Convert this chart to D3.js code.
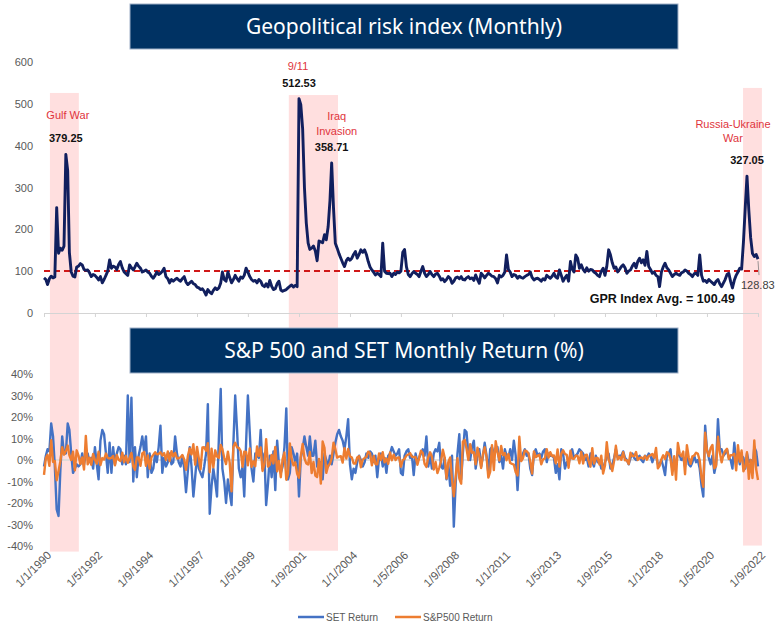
<!DOCTYPE html>
<html>
<head>
<meta charset="utf-8">
<script src="https://cdn.jsdelivr.net/npm/d3@7"></script>
<style>
  body { margin: 0; background: #fff; }
  svg { display: block; }
</style>
</head>
<body>
<div id="chart"></div>
<script>
// monthly values from Jan 1990 to Sep 2022, one row per year
const gprValues = [
  84, 80, 68, 82, 88, 84, 86, 252, 143, 155, 150, 160,
  379.25, 340, 145, 98, 88, 86, 110, 112, 118, 115, 104, 102,
  103, 96, 87, 92, 90, 85, 79, 87, 72, 80, 90, 100,
  127, 107, 112, 110, 104, 116, 123, 108, 98, 94, 90, 115,
  108, 103, 110, 119, 112, 107, 98, 100, 103, 98, 95, 88,
  83, 90, 98, 92, 95, 100, 107, 87, 82, 72, 80, 76,
  80, 83, 79, 76, 82, 87, 74, 68, 72, 76, 70, 68,
  62, 60, 56, 58, 52, 43, 56, 50, 46, 54, 60, 56,
  60, 72, 98, 80, 76, 98, 85, 72, 80, 90, 82, 76,
  86, 83, 90, 107, 98, 87, 80, 76, 78, 72, 80, 76,
  66, 63, 70, 62, 78, 64, 56, 58, 70, 76, 55, 52,
  54, 56, 60, 64, 67, 62, 66, 63, 512.53, 498, 440, 300,
  215, 167, 152, 155, 160, 148, 125, 172, 170, 168, 187, 175,
  206, 270, 358.71, 250, 167, 155, 142, 131, 120, 111, 125, 131,
  126, 131, 140, 147, 131, 140, 151, 145, 151, 140, 123, 110,
  103, 97, 91, 95, 92, 87, 167, 100, 95, 94, 95, 87,
  95, 92, 98, 96, 100, 145, 152, 111, 92, 87, 94, 99,
  95, 92, 87, 100, 111, 95, 87, 92, 99, 92, 87, 93,
  95, 88, 79, 82, 75, 80, 87, 83, 71, 76, 84, 86,
  82, 87, 80, 79, 84, 87, 82, 84, 78, 91, 80, 71,
  95, 90, 84, 90, 95, 92, 88, 87, 82, 72, 90, 86,
  90, 98, 139, 104, 98, 87, 92, 90, 83, 88, 85, 83,
  87, 90, 92, 98, 85, 79, 82, 83, 80, 76, 82, 79,
  90, 86, 83, 88, 95, 86, 83, 103, 90, 76, 84, 90,
  76, 123, 105, 98, 139, 131, 107, 115, 104, 98, 108, 100,
  104, 103, 98, 95, 90, 87, 100, 107, 90, 111, 151, 139,
  120, 107, 110, 98, 104, 111, 115, 108, 95, 100, 103, 112,
  119, 108, 123, 131, 120, 127, 114, 147, 111, 104, 95, 98,
  90, 87, 63, 98, 110, 119, 108, 103, 95, 87, 92, 95,
  92, 90, 96, 98, 103, 100, 95, 92, 87, 94, 95, 90,
  139, 90, 76, 78, 73, 80, 76, 72, 68, 76, 80, 70,
  63, 72, 80, 92, 95, 75, 60, 78, 90, 98, 107, 105,
  170, 255, 327.05, 245, 180, 142, 135, 140, 128.83
];

const setReturn = [
  -3, 2, 5, 4, 17, 11, -3, -23, -26, -5, 11, 3,
  3, 17, 14, 3, -6, -4, -2, -3, -2, 3, -2, 3,
  3, -1, 1, -4, 6, -2, -9, 9, 14, 12, 3, -6,
  8, -6, 6, -2, 3, 6, 5, -2, 2, -2, 30, -1,
  29, -10, 6, -8, 2, 6, 11, 4, 11, -8, 3, -6,
  -4, 3, -1, 6, 16, -6, 1, -3, -1, 3, -2, -1,
  11, 3, -1, -3, 2, -4, -15, -5, 6, -3, -17, -8,
  2, -4, -6, -8, -3, 3, 26, -25, -12, -4, -10, -17,
  10, 33, -4, -10, -20, -9, -15, -21, 8, 30, 14, -4,
  -8, -3, -17, 8, 30, 13, -4, -10, 3, 2, 1, 14,
  -4, 3, -21, -11, 2, -8, 4, -14, 9, -2, -6, -3,
  6, 24, -9, -6, 6, 3, -1, 3, -17, 1, 5, 11,
  6, 2, 11, 2, 2, 9, -3, -4, -1, -9, 3, 0,
  -3, 2, -2, 3, 8, 12, 14, 11, 9, 5, 11, 19,
  -2, -9, -4, -6, -1, 2, 0, -3, -1, 3, 1, 4,
  3, -1, 2, -8, 1, 3, -3, 1, -6, 2, 3, 6,
  4, 2, 3, 5, -6, -7, 2, 4, 5, 1, 2, -7,
  3, -1, 1, 3, 5, 2, 11, -3, 2, -4, 3, 5,
  4, 8, -3, -4, 1, -9, -2, -12, 2, -31, -11, 3,
  12, -9, 3, 14, 13, 3, 0, 6, 9, -4, 2, 5,
  -3, 2, 8, 2, -6, 5, 6, 3, 4, 6, -1, 2,
  -4, 5, 2, 1, 5, 0, 9, 2, -14, 1, 0, 3,
  5, 2, 3, -4, -7, 3, 5, 2, 3, 1, 4, 5,
  -1, 3, 2, 2, 1, -6, -2, -9, 5, 3, -4, -1,
  -2, 3, 5, 1, 2, 3, 5, 4, 3, 0, 1, -3,
  3, -1, -3, 2, -1, 0, -4, -4, -1, 1, 3, -4,
  -2, 1, 5, 1, 2, 2, 4, 1, 0, -2, 1, 3,
  1, 0, 1, 2, 0, -1, 2, 1, 3, 2, -1, 2,
  2, -2, -2, 0, -3, -7, 2, 3, 5, -5, -1, -2,
  4, 2, 0, 1, -3, 4, -2, -3, -1, 2, -1, 0,
  -4, -12, -17, 16, 5, 1, -2, 2, -6, -2, 19, 5,
  5, 2, 3, 5, 1, 0, -4, 8, -1, 3, -2, 2,
  1, -4, 3, -1, 0, -6, 6, 4, -3
];

const spReturn = [
  -6.9, 0.9, 2.4, -2.7, 9.2, -0.9, -0.5, -9.4, -5.1, -0.7, 6.0, 2.5,
  4.2, 6.7, 2.2, 0.0, 3.9, -4.8, 4.5, 2.0, -1.9, 1.2, -4.4, 11.2,
  -2.0, 1.0, -2.2, 2.8, 0.1, -1.7, 3.9, -2.4, 0.9, 0.2, 3.0, 1.0,
  0.7, 1.0, 1.9, -2.5, 2.3, 0.1, -0.5, 3.4, -1.0, 1.9, -1.3, 1.0,
  3.3, -3.0, -4.6, 1.2, 1.2, -2.7, 3.1, 3.8, -2.7, 2.1, -4.0, 1.2,
  2.4, 3.6, 2.7, 2.8, 3.6, 2.1, 3.2, 0.0, 4.0, -0.5, 4.1, 1.7,
  3.3, 0.7, 0.8, 1.3, 2.3, 0.2, -4.6, 1.9, 5.4, 2.6, 7.3, -2.2,
  6.1, 0.6, -4.3, 5.8, 5.9, 4.3, 7.8, -5.7, 5.3, -3.4, 4.5, 1.6,
  1.0, 7.0, 5.0, 0.9, -1.9, 3.9, -1.2, -14.6, 6.2, 8.0, 5.9, 5.6,
  4.1, -3.2, 3.9, 3.8, -2.5, 5.4, -3.2, -0.6, -2.9, 6.3, 1.9, 5.8,
  -5.1, -2.0, 9.7, -3.1, -2.2, 2.4, -1.6, 6.1, -5.3, -0.5, -8.0, 0.4,
  3.5, -9.2, -6.4, 7.7, 0.5, -2.5, -1.1, -6.4, -8.2, 1.8, 7.5, 0.8,
  -1.6, -2.1, 3.7, -6.1, -0.9, -7.2, -7.9, 0.5, -11.0, 8.6, 5.7, -6.0,
  -2.7, -1.7, 0.8, 8.1, 5.1, 1.1, 1.6, 1.8, -1.2, 5.5, 0.7, 5.1,
  1.7, 1.2, -1.6, -1.7, 1.2, 1.8, -3.4, 0.2, 0.9, 1.4, 3.9, 3.2,
  -2.5, 1.9, -1.9, -2.0, 3.0, 0.0, 3.6, -1.1, 0.7, -1.8, 3.5, -0.1,
  2.5, 0.0, 1.1, 1.2, -3.1, 0.0, 0.5, 2.1, 2.5, 3.2, 1.6, 1.3,
  1.4, -2.2, 1.0, 4.3, 3.3, -1.8, -3.2, 1.3, 3.6, 1.5, -4.4, -0.9,
  -6.1, -3.5, -0.6, 4.8, 1.1, -8.6, -1.0, 1.2, -9.1, -16.9, -7.5, 0.8,
  -8.6, -11.0, 8.5, 9.4, 5.3, 0.0, 7.4, 3.4, 3.6, -2.0, 5.7, 1.8,
  -3.7, 2.9, 5.9, 1.5, -8.2, -5.4, 6.9, -4.7, 8.8, 3.7, -0.2, 6.5,
  2.3, 3.2, -0.1, 2.8, -1.4, -1.8, -2.1, -5.7, -7.2, 10.8, -0.5, 0.9,
  4.4, 4.1, 3.1, -0.7, -6.3, 4.0, 1.3, 2.0, 2.4, -2.0, 0.3, 0.7,
  5.0, 1.1, 3.6, 1.8, 2.1, -1.5, 4.9, -3.1, 3.0, 4.5, 2.8, 2.4,
  -3.6, 4.3, 0.7, 0.6, 2.1, 1.9, -1.5, 3.8, -1.6, 2.3, 2.5, -0.4,
  -3.1, 5.5, -1.7, 0.9, 1.0, -2.1, 2.0, -6.3, -2.6, 8.3, 0.1, -1.8,
  -5.1, -0.4, 6.6, 0.3, 1.5, 0.1, 3.6, -0.1, -0.1, -1.9, 3.4, 1.8,
  1.8, 3.7, 0.0, 0.9, 1.2, 0.5, 1.9, 0.1, 1.9, 2.2, 2.8, 1.0,
  5.6, -3.9, -2.7, 0.3, 2.2, 0.5, 3.6, 3.0, 0.4, -6.9, 1.8, -9.2,
  7.9, 3.0, 1.8, 3.9, -6.6, 6.9, 1.3, -1.8, 1.7, 2.0, 3.4, 2.9,
  -0.2, -8.4, -12.5, 12.7, 4.5, 1.8, 5.5, 7.0, -3.9, -2.8, 10.8, 3.7,
  -1.1, 2.6, 4.2, 5.2, 0.5, 2.2, 2.3, 2.9, -4.8, 6.9, -0.8, 4.4,
  -5.3, -3.1, 3.6, -8.8, 0.0, -8.4, 9.1, -4.2, -9.3
];

const xTickLabels = ['1/1/1990', '1/5/1992', '1/9/1994', '1/1/1997', '1/5/1999',
  '1/9/2001', '1/1/2004', '1/5/2006', '1/9/2008', '1/1/2011', '1/5/2013',
  '1/9/2015', '1/1/2018', '1/5/2020', '1/9/2022'];
const gprTicks = [0, 100, 200, 300, 400, 500, 600];
const returnTicks = [-40, -30, -20, -10, 0, 10, 20, 30, 40];
const gprAverage = 100.49;

// shaded event periods: dates, top in index units, bottom in return %
const bandStart = ['1990-04-10', '2001-03-15', '2021-12-25'];
const bandEnd = ['1991-08-06', '2003-06-15', '2022-11-05'];
const bandTop = [526, 521, 538];
const bandBottom = [-42.6, -42.2, -39.8];

const eventNames = [['Gulf War'], ['9/11'], ['Iraq', 'Invasion'], ['Russia-Ukraine', 'War']];
const eventMonths = ['1991-01', '2001-09', '2003-03', '2022-03'];
const eventValues = [379.25, 512.53, 358.71, 327.05];

const titles = ['Geopolitical risk index (Monthly)', 'S&P 500 and SET Monthly Return (%)'];
const legendNames = ['SET Return', 'S&P500 Return'];

// ---- layout
const W = 776, H = 625;
const font = '"Liberation Sans", Arial, sans-serif';
const colors = { gpr: '#111f5e', set: '#4472c4', sp: '#ed7d31', band: '#ffdfdf', red: '#e0343c', box: '#003263' };

const svg = d3.select('#chart').append('svg')
  .attr('width', W)
  .attr('height', H)
  .style('font-family', font);

const months = gprValues.map((d, i) => d3.timeMonth.offset(new Date(1990, 0, 1), i));
const parseDay = d3.timeParse('%Y-%m-%d');
const parseMonth = d3.timeParse('%Y-%m');
const parseTick = d3.timeParse('%d/%m/%Y');
const tickDates = xTickLabels.map(parseTick);

const x = d3.scaleTime()
  .domain([months[0], months[months.length - 1]])
  .range([44, 758]);
const yGpr = d3.scaleLinear().domain([0, 600]).range([313, 62]);
const yRet = d3.scaleLinear().domain([-40, 40]).range([546, 374]);

// shaded periods, running through both panels
svg.append('g')
  .selectAll('rect')
  .data(bandStart)
  .join('rect')
  .attr('x', (d, i) => x(parseDay(d)))
  .attr('width', (d, i) => x(parseDay(bandEnd[i])) - x(parseDay(d)))
  .attr('y', (d, i) => yGpr(bandTop[i]))
  .attr('height', (d, i) => yRet(bandBottom[i]) - yGpr(bandTop[i]))
  .attr('fill', colors.band);

// ---- top panel
svg.append('g')
  .attr('transform', 'translate(0,313)')
  .call(d3.axisBottom(x).tickValues(tickDates).tickFormat('').tickSize(4).tickSizeOuter(0))
  .call(g => g.select('.domain').attr('stroke', '#d4d4d4'))
  .call(g => g.selectAll('.tick line').attr('stroke', '#d4d4d4'));

svg.append('g')
  .attr('transform', 'translate(44,0)')
  .call(d3.axisLeft(yGpr).tickValues(gprTicks).tickSize(0).tickPadding(11))
  .call(g => g.select('.domain').remove())
  .call(g => g.selectAll('text').attr('fill', '#595959').style('font-size', '11px').style('font-family', font));

svg.append('line')
  .attr('x1', x.range()[0])
  .attr('x2', x.range()[1])
  .attr('y1', yGpr(gprAverage))
  .attr('y2', yGpr(gprAverage))
  .attr('stroke', '#d01818')
  .attr('stroke-width', 2)
  .attr('stroke-dasharray', '6,4');

const gprLine = d3.line()
  .x((d, i) => x(months[i]))
  .y(d => yGpr(d));

svg.append('path')
  .datum(gprValues)
  .attr('d', gprLine)
  .attr('fill', 'none')
  .attr('stroke', colors.gpr)
  .attr('stroke-width', 2.9)
  .attr('stroke-linejoin', 'round');

// ---- bottom panel
svg.append('line')
  .attr('x1', x.range()[0])
  .attr('x2', x.range()[1])
  .attr('y1', yRet(0))
  .attr('y2', yRet(0))
  .attr('stroke', '#d9d9d9')
  .attr('stroke-width', 1.5);

svg.append('g')
  .attr('transform', 'translate(44,0)')
  .call(d3.axisLeft(yRet).tickValues(returnTicks).tickSize(0).tickPadding(11).tickFormat(d => `${d}%`))
  .call(g => g.select('.domain').remove())
  .call(g => g.selectAll('text').attr('fill', '#595959').style('font-size', '11px').style('font-family', font));

const retLine = d3.line()
  .x((d, i) => x(months[i]))
  .y(d => yRet(d));

svg.append('path')
  .datum(setReturn)
  .attr('d', retLine)
  .attr('fill', 'none')
  .attr('stroke', colors.set)
  .attr('stroke-width', 2.4)
  .attr('stroke-linejoin', 'round');

svg.append('path')
  .datum(spReturn)
  .attr('d', retLine)
  .attr('fill', 'none')
  .attr('stroke', colors.sp)
  .attr('stroke-width', 2.4)
  .attr('stroke-linejoin', 'round');

svg.append('g')
  .selectAll('text')
  .data(tickDates)
  .join('text')
  .attr('transform', d => `translate(${x(d) + 8},556) rotate(-45)`)
  .attr('text-anchor', 'end')
  .attr('fill', '#595959')
  .style('font-size', '11.5px')
  .text((d, i) => xTickLabels[i]);

// ---- title boxes
const titleY = [4, 328];
titles.forEach((t, i) => {
  svg.append('rect')
    .attr('x', 130)
    .attr('y', titleY[i])
    .attr('width', 548)
    .attr('height', 45)
    .attr('fill', colors.box)
    .attr('stroke', '#9fb0c8')
    .attr('stroke-width', 1);
  svg.append('text')
    .attr('x', 404)
    .attr('y', titleY[i] + 23)
    .attr('dy', '0.35em')
    .attr('text-anchor', 'middle')
    .attr('fill', '#fff')
    .style('font-family', '"Noto Sans", sans-serif')
    .style('font-size', '21px')
    .text(t);
});

// ---- event annotations
const labelDx = [2, -1, 5, -14];
const labelGap = [23, 17, 16, 22];
eventMonths.forEach((m, i) => {
  const px = x(parseMonth(m));
  const py = yGpr(eventValues[i]);
  svg.append('text')
    .attr('x', px)
    .attr('y', py - 12)
    .attr('text-anchor', 'middle')
    .attr('fill', '#111')
    .style('font-size', '11px')
    .style('font-weight', 'bold')
    .text(eventValues[i].toFixed(2));
  const lines = eventNames[i];
  lines.forEach((s, j) => {
    svg.append('text')
      .attr('x', px + labelDx[i])
      .attr('y', py - 12 - labelGap[i] - (lines.length - 1 - j) * 14.5)
      .attr('text-anchor', 'middle')
      .attr('fill', colors.red)
      .style('font-size', '11px')
      .text(s);
  });
});

// last value label with leader
const lastX = x(months[months.length - 1]);
const lastY = yGpr(gprValues[gprValues.length - 1]);
svg.append('line')
  .attr('x1', lastX)
  .attr('y1', lastY + 2)
  .attr('x2', lastX + 1)
  .attr('y2', lastY + 16)
  .attr('stroke', '#7f7f7f')
  .attr('stroke-width', 0.8);
svg.append('text')
  .attr('x', lastX - 17)
  .attr('y', lastY + 30)
  .attr('fill', '#404040')
  .style('font-size', '11px')
  .text(gprValues[gprValues.length - 1].toFixed(2));

svg.append('text')
  .attr('x', 735)
  .attr('y', 303)
  .attr('text-anchor', 'end')
  .attr('fill', '#111')
  .style('font-size', '12.5px')
  .style('font-weight', 'bold')
  .text(`GPR Index Avg. = ${gprAverage.toFixed(2)}`);

// ---- legend
const legendX = [298, 395];
const legendColors = [colors.set, colors.sp];
legendNames.forEach((n, i) => {
  svg.append('line')
    .attr('x1', legendX[i])
    .attr('x2', legendX[i] + 26)
    .attr('y1', 617)
    .attr('y2', 617)
    .attr('stroke', legendColors[i])
    .attr('stroke-width', 2.5);
  svg.append('text')
    .attr('x', legendX[i] + 28)
    .attr('y', 620.5)
    .attr('fill', '#595959')
    .style('font-size', '10px')
    .text(n);
});
</script>
</body>
</html>
